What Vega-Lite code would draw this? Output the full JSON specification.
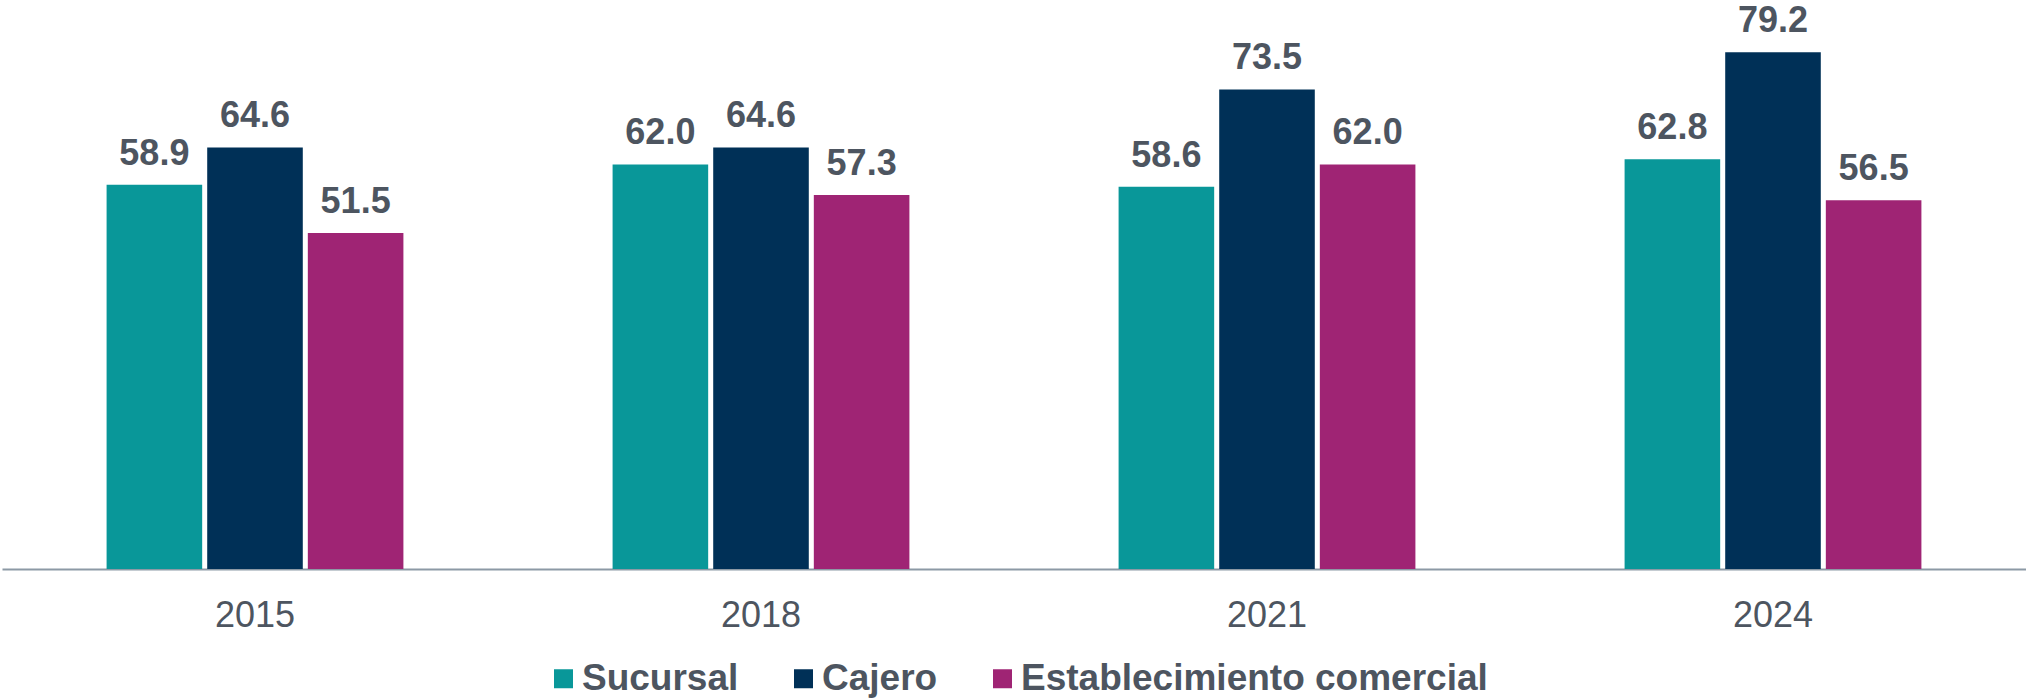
{
  "$schema": "https://vega.github.io/schema/vega-lite/v6.json",
  "autosize": "none",
  "width": 2024,
  "height": 522,
  "padding": {"left": 2, "right": 0, "top": 47, "bottom": 129},
  "background": "white",
  "config": {
    "view": {"stroke": null},
    "font": "Liberation Sans"
  },
  "data": {
    "values": [
      {"year": "2015", "series": "Sucursal", "value": 58.9},
      {"year": "2015", "series": "Cajero", "value": 64.6},
      {"year": "2015", "series": "Establecimiento comercial", "value": 51.5},
      {"year": "2018", "series": "Sucursal", "value": 62.0},
      {"year": "2018", "series": "Cajero", "value": 64.6},
      {"year": "2018", "series": "Establecimiento comercial", "value": 57.3},
      {"year": "2021", "series": "Sucursal", "value": 58.6},
      {"year": "2021", "series": "Cajero", "value": 73.5},
      {"year": "2021", "series": "Establecimiento comercial", "value": 62.0},
      {"year": "2024", "series": "Sucursal", "value": 62.8},
      {"year": "2024", "series": "Cajero", "value": 79.2},
      {"year": "2024", "series": "Establecimiento comercial", "value": 56.5}
    ]
  },
  "encoding": {
    "x": {
      "field": "year",
      "type": "nominal",
      "scale": {"paddingInner": 0.4134, "paddingOuter": 0.2067},
      "axis": {
        "title": null,
        "labelAngle": 0,
        "labelFont": "Liberation Sans",
        "labelFontSize": 36,
        "labelColor": "#4D5560",
        "labelBaseline": "alphabetic",
        "labelPadding": 57,
        "ticks": false,
        "tickSize": 0,
        "domainColor": "#8C99A5",
        "domainWidth": 2,
        "grid": false
      }
    },
    "xOffset": {
      "field": "series",
      "type": "nominal",
      "sort": ["Sucursal", "Cajero", "Establecimiento comercial"],
      "scale": {"paddingInner": 0.05, "paddingOuter": 0}
    },
    "y": {
      "field": "value",
      "type": "quantitative",
      "scale": {"domain": [0, 80], "nice": false, "zero": true},
      "axis": null
    }
  },
  "layer": [
    {
      "mark": {"type": "bar"},
      "encoding": {
        "color": {
          "field": "series",
          "type": "nominal",
          "sort": ["Sucursal", "Cajero", "Establecimiento comercial"],
          "scale": {
            "domain": ["Sucursal", "Cajero", "Establecimiento comercial"],
            "range": ["#099799", "#003057", "#9F2474"]
          },
          "legend": {
            "title": null,
            "orient": "none",
            "direction": "horizontal",
            "legendX": 543,
            "legendY": 613,
            "padding": 0,
            "symbolType": "square",
            "symbolSize": 361,
            "symbolStrokeWidth": 0,
            "symbolOpacity": 1,
            "labelFont": "Liberation Sans",
            "labelFontSize": 37,
            "labelFontWeight": "bold",
            "labelColor": "#4D5560",
            "labelOffset": 0,
            "columnPadding": 46,
            "labelLimit": 1000
          }
        }
      }
    },
    {
      "mark": {
        "type": "text",
        "baseline": "alphabetic",
        "dy": -20,
        "font": "Liberation Sans",
        "fontSize": 36,
        "fontWeight": "bold",
        "color": "#4D5560"
      },
      "encoding": {
        "text": {"field": "value", "type": "quantitative", "format": ".1f"}
      }
    }
  ]
}
